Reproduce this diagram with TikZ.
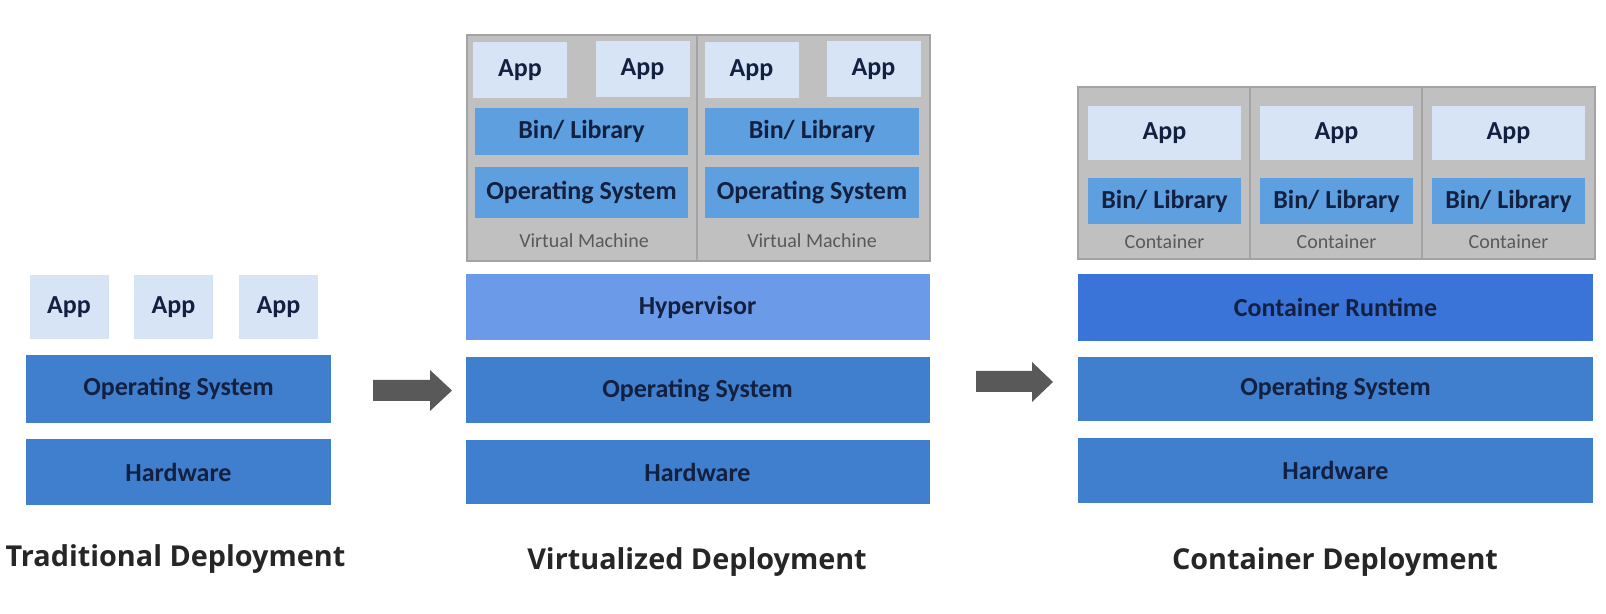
\documentclass[tikz,border=0pt]{standalone}
\usepackage{fontspec}
\setmainfont{Carlito}
\newfontfamily\titlefont{Open Sans}
\usetikzlibrary{positioning}

\definecolor{appblue}{HTML}{D6E4F5}
\definecolor{binblue}{HTML}{5E9FE0}
\definecolor{hypblue}{HTML}{6B9BE8}
\definecolor{osblue}{HTML}{3F7FCD}
\definecolor{rtblue}{HTML}{3B74D8}
\definecolor{vmgray}{HTML}{C0C0C0}
\definecolor{edgegray}{HTML}{A3A3A3}
\definecolor{arrowgray}{HTML}{595959}
\definecolor{inktext}{HTML}{142040}

\tikzset{
	box/.style={rectangle, inner sep=0pt, text=inktext, font=\bfseries\fontsize{13}{15}\selectfont},
	appbox/.style={box, fill=appblue},
	binbox/.style={box, fill=binblue},
	layer/.style={box, fill=osblue},
	vmbox/.style={rectangle, inner sep=0pt, fill=vmgray, draw=edgegray, line width=0.7pt},
	tag/.style={text=arrowgray, font=\fontsize{10}{12}\selectfont},
	title/.style={anchor=base, text=black!85, font=\titlefont\bfseries\fontsize{14.4}{17}\selectfont}
}

\begin{document}
\begin{tikzpicture}[x=0.5pt, y=-0.5pt]
		\useasboundingbox (0,0) rectangle (1606,614);
		% traditional
		\node[appbox, minimum width=39.5pt, minimum height=32pt] (tapp1) at (69,307) {App};
		\node[appbox, minimum width=39.5pt, minimum height=32pt] (tapp2) at (173.5,307) {App};
		\node[appbox, minimum width=39.5pt, minimum height=32pt] (tapp3) at (278.5,307) {App};
		\node[layer, minimum width=152.5pt, minimum height=34pt] (tos) at (178.5,389) {Operating System};
		\node[layer, minimum width=152.5pt, minimum height=33pt] (thw) at (178.5,472) {Hardware};
		\node[title] (ttitle) at (175.5,566) {Traditional Deployment};
		\fill[arrowgray] (373,380) -- (430,380) -- (430,370) -- (452,390.5) -- (430,411) -- (430,401) -- (373,401) -- cycle;
		% virtualized
		\node[vmbox, minimum width=231.5pt, minimum height=113pt] (vm) at (698.5,148) {};
		\draw[edgegray, line width=0.7pt] (697,35) -- (697,261);
		\node[appbox, minimum width=47pt, minimum height=28pt] (vapp1) at (520,70) {App};
		\node[appbox, minimum width=47pt, minimum height=28pt] (vapp2) at (642.5,69) {App};
		\node[appbox, minimum width=47pt, minimum height=28pt] (vapp3) at (751.5,70) {App};
		\node[appbox, minimum width=47pt, minimum height=28pt] (vapp4) at (873.5,69) {App};
		\node[binbox, minimum width=106.5pt, minimum height=23.5pt] (vbin1) at (581.5,131.5) {Bin/ Library};
		\node[binbox, minimum width=107pt, minimum height=23.5pt] (vbin2) at (812,131.5) {Bin/ Library};
		\node[binbox, minimum width=106.5pt, minimum height=25.5pt] (vos1) at (581.5,192.5) {Operating System};
		\node[binbox, minimum width=107pt, minimum height=25.5pt] (vos2) at (812,192.5) {Operating System};
		\node[tag] (vtag1) at (584,241) {Virtual Machine};
		\node[tag] (vtag2) at (812,241) {Virtual Machine};
		\node[box, fill=hypblue, minimum width=232pt, minimum height=33pt] (hyp) at (697.5,307.5) {Hypervisor};
		\node[layer, minimum width=232pt, minimum height=33pt] (vos) at (697.5,390.5) {Operating System};
		\node[layer, minimum width=232pt, minimum height=32pt] (vhw) at (697.5,472) {Hardware};
		\node[title] (vtitle) at (697,569) {Virtualized Deployment};
		\fill[arrowgray] (976,371) -- (1032,371) -- (1032,362) -- (1053,382) -- (1032,402) -- (1032,392) -- (976,392) -- cycle;
		% container
		\node[vmbox, minimum width=258.5pt, minimum height=86pt] (cbox) at (1336.5,173) {};
		\draw[edgegray, line width=0.7pt] (1250,87) -- (1250,259);
		\draw[edgegray, line width=0.7pt] (1422,87) -- (1422,259);
		\node[appbox, minimum width=76.5pt, minimum height=27pt] (capp1) at (1164.5,133) {App};
		\node[appbox, minimum width=76.5pt, minimum height=27pt] (capp2) at (1336.5,133) {App};
		\node[appbox, minimum width=76.5pt, minimum height=27pt] (capp3) at (1508.5,133) {App};
		\node[binbox, minimum width=76.5pt, minimum height=23pt] (cbin1) at (1164.5,201) {Bin/ Library};
		\node[binbox, minimum width=76.5pt, minimum height=23pt] (cbin2) at (1336.5,201) {Bin/ Library};
		\node[binbox, minimum width=76.5pt, minimum height=23pt] (cbin3) at (1508.5,201) {Bin/ Library};
		\node[tag] (ctag1) at (1164.5,242) {Container};
		\node[tag] (ctag2) at (1336.5,242) {Container};
		\node[tag] (ctag3) at (1508.5,242) {Container};
		\node[box, fill=rtblue, minimum width=257.5pt, minimum height=33.5pt] (crt) at (1335.5,307.5) {Container Runtime};
		\node[layer, minimum width=257.5pt, minimum height=32pt] (cos) at (1335.5,389) {Operating System};
		\node[layer, minimum width=257.5pt, minimum height=32.5pt] (chw) at (1335.5,470.5) {Hardware};
		\node[title] (ctitle) at (1335,569) {Container Deployment};
\end{tikzpicture}
\end{document}
